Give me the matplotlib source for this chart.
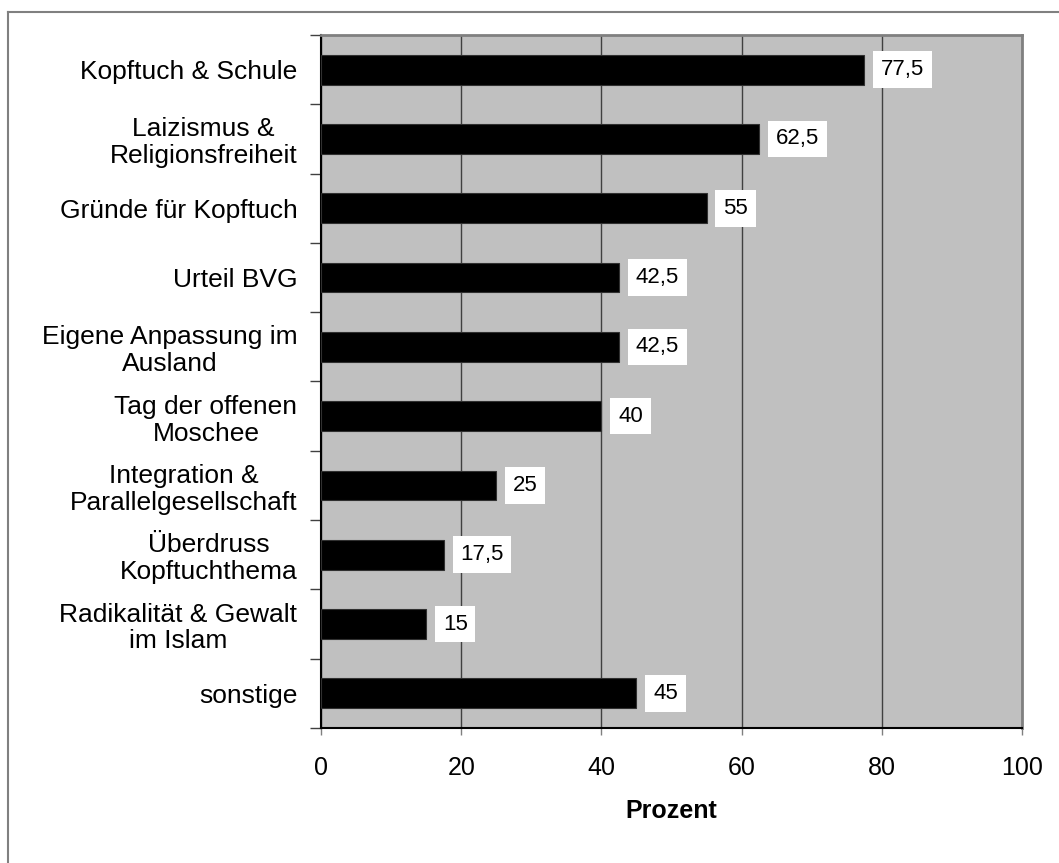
import matplotlib
matplotlib.use("Agg")
import matplotlib.pyplot as plt
from matplotlib.lines import Line2D

plt.rcParams["font.family"] = ["Liberation Sans", "DejaVu Sans"]

# -------------------------
# Daten
# -------------------------
categories = [
    "Kopftuch & Schule",
    "Laizismus &\nReligionsfreiheit",
    "Gründe für Kopftuch",
    "Urteil BVG",
    "Eigene Anpassung im\nAusland",
    "Tag der offenen\nMoschee",
    "Integration &\nParallelgesellschaft",
    "Überdruss\nKopftuchthema",
    "Radikalität & Gewalt\nim Islam",
    "sonstige",
]
values = [77.5, 62.5, 55, 42.5, 42.5, 40, 25, 17.5, 15, 45]
value_labels = ["77,5", "62,5", "55", "42,5", "42,5", "40", "25", "17,5", "15", "45"]
x_ticks = [0, 20, 40, 60, 80, 100]

W, H = 1059, 863
fig = plt.figure(figsize=(W / 100, H / 100), dpi=100)
ax = fig.add_axes([321 / W, 1 - 728 / H, (1022 - 321) / W, (728 - 35) / H])

# Rahmen um die Grafik (nur oben und links sichtbar)
fig.add_artist(Line2D([8 / W, 8 / W], [0, 1 - 12 / H], color="#808080", lw=1.5))
fig.add_artist(Line2D([8 / W, 1], [1 - 12 / H, 1 - 12 / H], color="#808080", lw=1.5))

ax.set_facecolor("#c0c0c0")
ypos = list(range(len(categories)))
ax.barh(ypos, values, height=0.43, color="black", edgecolor="#303030", lw=0.8, zorder=3)

for y, v, lab in zip(ypos, values, value_labels):
    ax.annotate(lab, xy=(v, y), xytext=(12, 0), textcoords="offset points",
                ha="left", va="center", fontsize=16, color="black", zorder=4,
                bbox=dict(boxstyle="square,pad=0.35", fc="white", ec="none"))

ax.set_xlim(0, 100)
ax.set_ylim(len(categories) - 0.5, -0.5)
ax.set_xticks(x_ticks)
ax.set_xticklabels([str(t) for t in x_ticks], fontsize=18)
ax.tick_params(axis="x", length=5, width=1, color="#808080", pad=15)
ax.xaxis.grid(True, color="#404040", lw=1, zorder=1)
ax.set_axisbelow(True)

# Striche an den Kategoriegrenzen, Beschriftung in der Mitte
ax.set_yticks([i - 0.5 for i in range(len(categories) + 1)])
ax.set_yticklabels([])
ax.tick_params(axis="y", which="major", length=8, width=1, color="#404040")
ax.set_yticks(ypos, minor=True)
ax.set_yticklabels(categories, minor=True, fontsize=19)
ax.tick_params(axis="y", which="minor", length=0, pad=17)
for lbl in ax.get_yticklabels(minor=True):
    lbl.set_multialignment("center")
    lbl.set_linespacing(1.15)

ax.spines["left"].set_color("black")
ax.spines["left"].set_linewidth(1.5)
ax.spines["bottom"].set_color("black")
ax.spines["bottom"].set_linewidth(1.5)
ax.spines["top"].set_color("#808080")
ax.spines["top"].set_linewidth(2)
ax.spines["right"].set_color("#808080")
ax.spines["right"].set_linewidth(2)

ax.set_xlabel("Prozent", fontsize=18, fontweight="bold", labelpad=14)

fig.savefig("out.png", dpi=100)
